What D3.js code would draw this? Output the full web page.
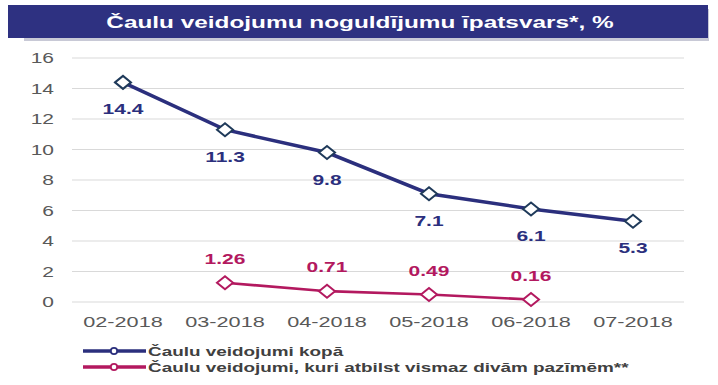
<!DOCTYPE html>
<html>
<head>
<meta charset="utf-8">
<script src="https://cdn.jsdelivr.net/npm/d3@7"></script>
<style>
  body { margin: 0; background: #fff; }
  svg { display: block; font-family: "Liberation Sans", Arial, sans-serif; }
</style>
</head>
<body>
<div id="chart"></div>
<script>
// Data
const months = ["02-2018", "03-2018", "04-2018", "05-2018", "06-2018", "07-2018"];
const totalValues = [14.4, 11.3, 9.8, 7.1, 6.1, 5.3];
const totalLabels = ["14.4", "11.3", "9.8", "7.1", "6.1", "5.3"];
const twoSignMonths = ["03-2018", "04-2018", "05-2018", "06-2018"];
const twoSignValues = [1.26, 0.71, 0.49, 0.16];
const twoSignLabels = ["1.26", "0.71", "0.49", "0.16"];
const yTicks = [0, 2, 4, 6, 8, 10, 12, 14, 16];
const legendNames = ["Čaulu veidojumi kopā", "Čaulu veidojumi, kuri atbilst vismaz divām pazīmēm**"];
const titleText = "Čaulu veidojumu noguldījumu īpatsvars*, %";

const width = 718, height = 385;
const blue = "#2b2f7d", pink = "#b3195f", grey = "#595959";
const stretch = 1.4; // text in the picture is horizontally stretched

const svg = d3.select("#chart").append("svg")
    .attr("width", width)
    .attr("height", height);

// helper: stretched text
function sText(g, x, y, str, anchor, k) {
    return g.append("text")
        .attr("transform", `translate(${x},${y}) scale(${k || stretch},1)`)
        .attr("text-anchor", anchor || "middle")
        .text(str);
}

// Title bar
svg.append("rect")
    .attr("x", 24).attr("y", 9).attr("width", 685).attr("height", 32)
    .attr("fill", "#c8c9d6");
svg.append("rect")
    .attr("x", 8).attr("y", 5).attr("width", 700).attr("height", 33)
    .attr("fill", "#2e3181");
sText(svg, 360, 28, titleText)
    .attr("fill", "#fff")
    .attr("font-weight", "bold")
    .attr("font-size", 17.4);

// Scales
const x = d3.scaleBand().domain(months).range([72, 684]);
const y = d3.scaleLinear().domain([0, 16]).range([302, 58]);
const cx = d => x(d) + x.bandwidth() / 2;

// Grid
svg.append("g")
    .selectAll("line")
    .data(yTicks)
    .join("line")
    .attr("x1", 72).attr("x2", 684)
    .attr("y1", d => y(d)).attr("y2", d => y(d))
    .attr("stroke", "#d9d9d9")
    .attr("stroke-width", 1);

// Y tick labels
const yl = svg.append("g").attr("fill", grey).attr("font-size", 15);
yTicks.forEach(t => sText(yl, 54, y(t) + 5, String(t), "end"));

// X tick labels
const xl = svg.append("g").attr("fill", grey).attr("font-size", 15.5);
months.forEach(m => sText(xl, cx(m), 327, m));

// Lines
const line = d3.line().x(d => cx(d[0])).y(d => y(d[1]));
const totalData = months.map((m, i) => [m, totalValues[i]]);
const twoData = twoSignMonths.map((m, i) => [m, twoSignValues[i]]);

svg.append("path")
    .datum(totalData)
    .attr("d", line)
    .attr("fill", "none")
    .attr("stroke", blue)
    .attr("stroke-width", 3.5);

svg.append("path")
    .datum(twoData)
    .attr("d", line)
    .attr("fill", "none")
    .attr("stroke", pink)
    .attr("stroke-width", 2.6);

// Diamond markers
const diamond = (w, h) => `M${-w},0L0,${-h}L${w},0L0,${h}Z`;

svg.append("g")
    .selectAll("path")
    .data(totalData)
    .join("path")
    .attr("d", diamond(8, 6.5))
    .attr("transform", d => `translate(${cx(d[0])},${y(d[1])})`)
    .attr("fill", "#fff")
    .attr("stroke", "#1f3a5a")
    .attr("stroke-width", 2);

svg.append("g")
    .selectAll("path")
    .data(twoData)
    .join("path")
    .attr("d", diamond(8, 6.5))
    .attr("transform", d => `translate(${cx(d[0])},${y(d[1])})`)
    .attr("fill", "#fff")
    .attr("stroke", pink)
    .attr("stroke-width", 2);

// Data labels
const bl = svg.append("g").attr("fill", blue).attr("font-weight", "bold").attr("font-size", 15);
totalData.forEach((d, i) => sText(bl, cx(d[0]), y(d[1]) + 32, totalLabels[i]));

const pl = svg.append("g").attr("fill", pink).attr("font-weight", "bold").attr("font-size", 15);
twoData.forEach((d, i) => sText(pl, cx(d[0]), y(d[1]) - 19, twoSignLabels[i]));

// Legend
const legendColors = [blue, pink];
legendNames.forEach((name, i) => {
    const ly = 351 + i * 16;
    const g = svg.append("g");
    g.append("line")
        .attr("x1", 83).attr("x2", 146)
        .attr("y1", ly).attr("y2", ly)
        .attr("stroke", legendColors[i])
        .attr("stroke-width", 3.5);
    g.append("circle")
        .attr("cx", 114).attr("cy", ly).attr("r", 3.2)
        .attr("fill", "#fff")
        .attr("stroke", legendColors[i])
        .attr("stroke-width", 1.8);
    sText(g, 148, ly + 5, name, "start", 1.4)
        .attr("fill", "#404040")
        .attr("font-weight", "bold")
        .attr("font-size", 13.5);
});
</script>
</body>
</html>
